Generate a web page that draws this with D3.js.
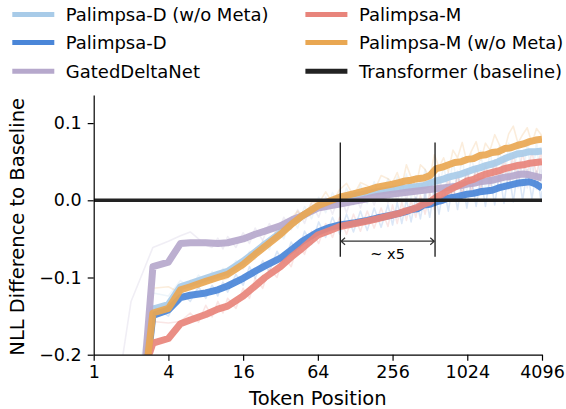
<!DOCTYPE html>
<html><head><meta charset="utf-8">
<script src="https://cdn.jsdelivr.net/npm/d3@7"></script>
<style>body{margin:0;background:#fff} svg{display:block} text{font-family:"DejaVu Sans",sans-serif;fill:#000}</style>
</head><body><svg id="c" width="566" height="409"></svg>
<script>
// ---- data ----
const xTicks = [1, 4, 16, 64, 256, 1024, 4096];
const yTicks = [-0.2, -0.1, 0.0, 0.1];
const seriesNames = ["Palimpsa-D (w/o Meta)", "Palimpsa-D", "GatedDeltaNet", "Palimpsa-M", "Palimpsa-M (w/o Meta)"];
const seriesColors = ["#a8cbe8", "#4a86d8", "#b6a8cc", "#e8847b", "#e9a752"];
const baselineName = "Transformer (baseline)";
const baselineValue = 0.0;

// smoothed (moving-average) curves
const smoothPos = [2,3,4,5,6,8,10,12,16,20,24,32,40,48,64,80,96,128,160,192,256,
  288,323,362,406,456,512,575,645,724,813,912,1024,1149,1290,1448,1625,1825,2048,2299,2580,2896,3251,3649,4096];
const lbSmooth = [-0.38,-0.141,-0.135,-0.112,-0.108,-0.101,-0.096,-0.092,-0.079,-0.067,-0.057,-0.042,-0.029,-0.020,-0.008,-0.002,0.002,0.006,0.009,0.011,0.014,
  0.015,0.016,0.017,0.018,0.019,0.022,0.025,0.027,0.030,0.032,0.034,0.037,0.040,0.042,0.045,0.047,0.050,0.054,0.057,0.060,0.061,0.063,0.063,0.064];
const bSmooth  = [-0.40,-0.149,-0.142,-0.126,-0.123,-0.120,-0.116,-0.111,-0.101,-0.092,-0.085,-0.075,-0.063,-0.053,-0.041,-0.035,-0.032,-0.029,-0.026,-0.023,-0.019,
  -0.017,-0.015,-0.012,-0.011,-0.006,-0.005,-0.002,0.000,0.003,0.004,0.006,0.008,0.009,0.011,0.012,0.013,0.016,0.018,0.020,0.022,0.023,0.024,0.021,0.016];
const pSmooth  = [-0.44,-0.086,-0.080,-0.056,-0.055,-0.055,-0.056,-0.055,-0.050,-0.044,-0.040,-0.033,-0.025,-0.020,-0.010,-0.007,-0.005,-0.001,0.002,0.005,0.008,
  0.009,0.010,0.011,0.012,0.013,0.014,0.015,0.016,0.017,0.018,0.019,0.021,0.022,0.024,0.025,0.026,0.028,0.030,0.031,0.033,0.034,0.033,0.031,0.029];
const sSmooth  = [-0.27,-0.185,-0.179,-0.160,-0.155,-0.148,-0.141,-0.137,-0.124,-0.111,-0.100,-0.086,-0.072,-0.062,-0.045,-0.039,-0.034,-0.030,-0.027,-0.024,-0.019,
  -0.017,-0.014,-0.012,-0.009,-0.005,-0.002,0.004,0.008,0.013,0.017,0.021,0.025,0.027,0.031,0.034,0.036,0.038,0.041,0.043,0.045,0.046,0.048,0.049,0.050];
const oSmooth  = [-0.39,-0.146,-0.140,-0.116,-0.112,-0.105,-0.100,-0.096,-0.083,-0.070,-0.060,-0.044,-0.030,-0.020,-0.007,-0.001,0.004,0.009,0.013,0.017,0.021,
  0.023,0.025,0.026,0.028,0.029,0.032,0.041,0.043,0.046,0.049,0.050,0.053,0.054,0.058,0.059,0.062,0.063,0.067,0.068,0.071,0.073,0.076,0.078,0.079];

// raw (noisy, faint) curves
const rawPos = [1,2,3,4,5,6,7,8,9,10,11,12,14,16,18,20,23,26,30,34,39,44,50,57,65,74,84,96,109,124,141,160,182,207,235,256,
  279,304,331,361,394,429,468,510,556,606,660,720,785,855,932,1016,1108,1207,1316,1434,1563,1704,1857,2024,2207,2405,2622,2858,3115,3395,3701,4034,4096];
const lbRaw = [-0.58,-0.28,-0.120,-0.124,-0.104,-0.115,-0.097,-0.108,-0.092,-0.103,-0.088,-0.099,-0.078,-0.086,-0.066,-0.076,-0.052,-0.064,-0.036,-0.050,-0.022,-0.036,-0.008,-0.024,0.004,-0.016,0.010,-0.010,0.016,-0.006,0.020,-0.004,0.024,0.000,0.028,0.002,
  0.030,0.004,0.034,0.002,0.032,0.008,0.040,0.006,0.042,0.012,0.046,0.010,0.052,0.016,0.056,0.012,0.060,0.018,0.064,0.014,0.066,0.020,0.070,0.016,0.074,0.022,0.076,0.018,0.078,0.020,0.076,0.016,0.040];
const bRaw  = [-0.60,-0.31,-0.136,-0.150,-0.117,-0.131,-0.112,-0.127,-0.110,-0.124,-0.106,-0.119,-0.096,-0.110,-0.086,-0.101,-0.078,-0.093,-0.066,-0.082,-0.054,-0.070,-0.040,-0.057,-0.028,-0.048,-0.022,-0.044,-0.018,-0.041,-0.014,-0.039,-0.010,-0.035,-0.006,-0.032,
  -0.003,-0.030,0.001,-0.028,0.004,-0.024,0.010,-0.022,0.014,-0.018,0.018,-0.014,0.022,-0.012,0.026,-0.010,0.028,-0.008,0.030,-0.008,0.032,-0.006,0.036,-0.004,0.038,-0.002,0.040,0.000,0.040,0.002,0.038,-0.002,0.012];
const pRaw  = [-0.45,-0.131,-0.061,-0.053,-0.046,-0.041,-0.050,-0.058,-0.061,-0.049,-0.063,-0.047,-0.061,-0.042,-0.056,-0.036,-0.052,-0.030,-0.046,-0.022,-0.038,-0.012,-0.030,-0.004,-0.022,0.004,-0.018,0.008,-0.016,0.012,-0.010,0.016,-0.006,0.020,-0.004,0.022,
  -0.002,0.024,0.000,0.026,-0.002,0.028,0.002,0.030,0.000,0.034,0.004,0.036,0.002,0.038,0.006,0.040,0.008,0.042,0.010,0.044,0.010,0.046,0.012,0.048,0.014,0.050,0.016,0.050,0.016,0.048,0.014,0.046,0.030];
const sRaw  = [-0.65,-0.36,-0.157,-0.159,-0.157,-0.146,-0.158,-0.136,-0.151,-0.131,-0.146,-0.127,-0.140,-0.114,-0.127,-0.101,-0.114,-0.088,-0.100,-0.072,-0.086,-0.058,-0.070,-0.040,-0.056,-0.030,-0.048,-0.022,-0.044,-0.018,-0.040,-0.014,-0.036,-0.010,-0.034,-0.006,
  -0.030,-0.002,-0.026,0.000,-0.022,0.006,-0.018,0.010,-0.012,0.020,-0.004,0.026,0.002,0.032,0.008,0.038,0.012,0.044,0.016,0.048,0.020,0.052,0.024,0.056,0.026,0.060,0.028,0.062,0.030,0.064,0.032,0.066,0.045];
const oRaw  = [-0.62,-0.33,-0.114,-0.112,-0.120,-0.104,-0.113,-0.098,-0.106,-0.094,-0.103,-0.101,-0.083,-0.089,-0.068,-0.074,-0.054,-0.060,-0.038,-0.046,-0.024,-0.014,-0.024,-0.002,-0.004,0.011,-0.003,0.014,0.022,0.006,0.023,0.019,0.012,0.032,0.028,0.023,
  0.036,0.018,0.046,0.030,0.017,0.046,0.040,0.029,0.059,0.043,0.055,0.037,0.065,0.055,0.075,0.050,0.064,0.076,0.052,0.074,0.065,0.085,0.072,0.062,0.086,0.096,0.074,0.085,0.094,0.074,0.093,0.085,0.080];

const annotPos = [97, 563];
const annotText = "~ x5";
const xLabel = "Token Position";
const yLabel = "NLL Difference to Baseline";

// ---- chart ----
const svg = d3.select("#c");
const L = 93.7, R = 542, T = 95, B = 354.7;
const x = d3.scaleLog().base(2).domain([1, 4096]).range([L, R]);
const y = d3.scaleLinear().domain([-0.2, 0.1364]).range([B, T]);

svg.append("clipPath").attr("id", "clip").append("rect")
  .attr("x", L).attr("y", T).attr("width", R - L).attr("height", B - T);
const plot = svg.append("g").attr("clip-path", "url(#clip)");

const smooths = [lbSmooth, bSmooth, pSmooth, sSmooth, oSmooth];
const raws = [lbRaw, bRaw, pRaw, sRaw, oRaw];
const line = d3.line().x(d => x(d[0])).y(d => y(d[1]));

raws.forEach((r, i) => {
  plot.append("path").datum(rawPos.map((p, j) => [p, r[j]]))
    .attr("d", line).attr("fill", "none").attr("stroke", seriesColors[i])
    .attr("stroke-width", 1.6).attr("stroke-opacity", 0.2).attr("stroke-linejoin", "round");
});
smooths.forEach((s, i) => {
  plot.append("path").datum(smoothPos.map((p, j) => [p, s[j]]))
    .attr("d", line).attr("fill", "none").attr("stroke", seriesColors[i])
    .attr("stroke-width", 7).attr("stroke-opacity", 0.92).attr("stroke-linejoin", "round");
});
// baseline
plot.append("line").attr("x1", L).attr("x2", R).attr("y1", y(baselineValue)).attr("y2", y(baselineValue))
  .attr("stroke", "#222").attr("stroke-width", 3.5);

// annotation
const aTop = 0.075, aBot = -0.073, aArrow = -0.053;
annotPos.forEach(p => {
  svg.append("line").attr("x1", x(p)).attr("x2", x(p)).attr("y1", y(aTop)).attr("y2", y(aBot))
    .attr("stroke", "#000").attr("stroke-width", 1.2);
});
const ax1 = x(annotPos[0]) + 0.8, ax2 = x(annotPos[1]) - 0.8, ay = y(aArrow);
svg.append("path")
  .attr("d", `M${ax1},${ay}H${ax2}M${ax1 + 4},${ay - 3.5}L${ax1},${ay}L${ax1 + 4},${ay + 3.5}M${ax2 - 4},${ay - 3.5}L${ax2},${ay}L${ax2 - 4},${ay + 3.5}`)
  .attr("fill", "none").attr("stroke", "#333").attr("stroke-width", 1.2);
svg.append("text").attr("x", x(Math.sqrt(annotPos[0] * annotPos[1]))).attr("y", y(-0.076))
  .attr("text-anchor", "middle").style("font-size", "14.5px").text(annotText);

// axes
const xAxis = svg.append("g").attr("transform", `translate(0,${B})`)
  .call(d3.axisBottom(x).tickValues(xTicks).tickFormat(d => String(d)).tickSize(6).tickSizeOuter(0).tickPadding(5));
const yAxis = svg.append("g").attr("transform", `translate(${L},0)`)
  .call(d3.axisLeft(y).tickValues(yTicks).tickFormat(d => d3.format(".1f")(d).replace("-", "\u2212")).tickSize(6).tickSizeOuter(0).tickPadding(6));
[xAxis, yAxis].forEach(g => {
  g.selectAll("path.domain").attr("stroke", "#000").attr("stroke-width", 1.2);
  g.selectAll(".tick line").attr("stroke", "#000").attr("stroke-width", 1.2);
  g.selectAll(".tick text").style("font-family", "DejaVu Sans").style("font-size", "17.5px").attr("fill", "#000");
});
svg.append("text").attr("x", (L + R) / 2).attr("y", 405).attr("text-anchor", "middle")
  .style("font-size", "19.5px").text(xLabel);
svg.append("text").attr("transform", `translate(24,${(T + B) / 2 + 2}) rotate(-90)`).attr("text-anchor", "middle")
  .style("font-size", "19.5px").text(yLabel);

// legend
const legItems = seriesNames.map((n, i) => ({ name: n, color: seriesColors[i] }))
  .concat([{ name: baselineName, color: "#222" }]);
const colX = [12.3, 305.4], rowY = [14.5, 42.6, 71.2];
legItems.forEach((it, i) => {
  const c = Math.floor(i / 3), r = i % 3;
  const g = svg.append("g");
  g.append("line").attr("x1", colX[c]).attr("x2", colX[c] + 42).attr("y1", rowY[r]).attr("y2", rowY[r])
    .attr("stroke", it.color).attr("stroke-width", 5);
  g.append("text").attr("x", colX[c] + 53.5).attr("y", rowY[r]).attr("dy", "0.35em")
    .style("font-size", "18px").text(it.name);
});
</script></body></html>
